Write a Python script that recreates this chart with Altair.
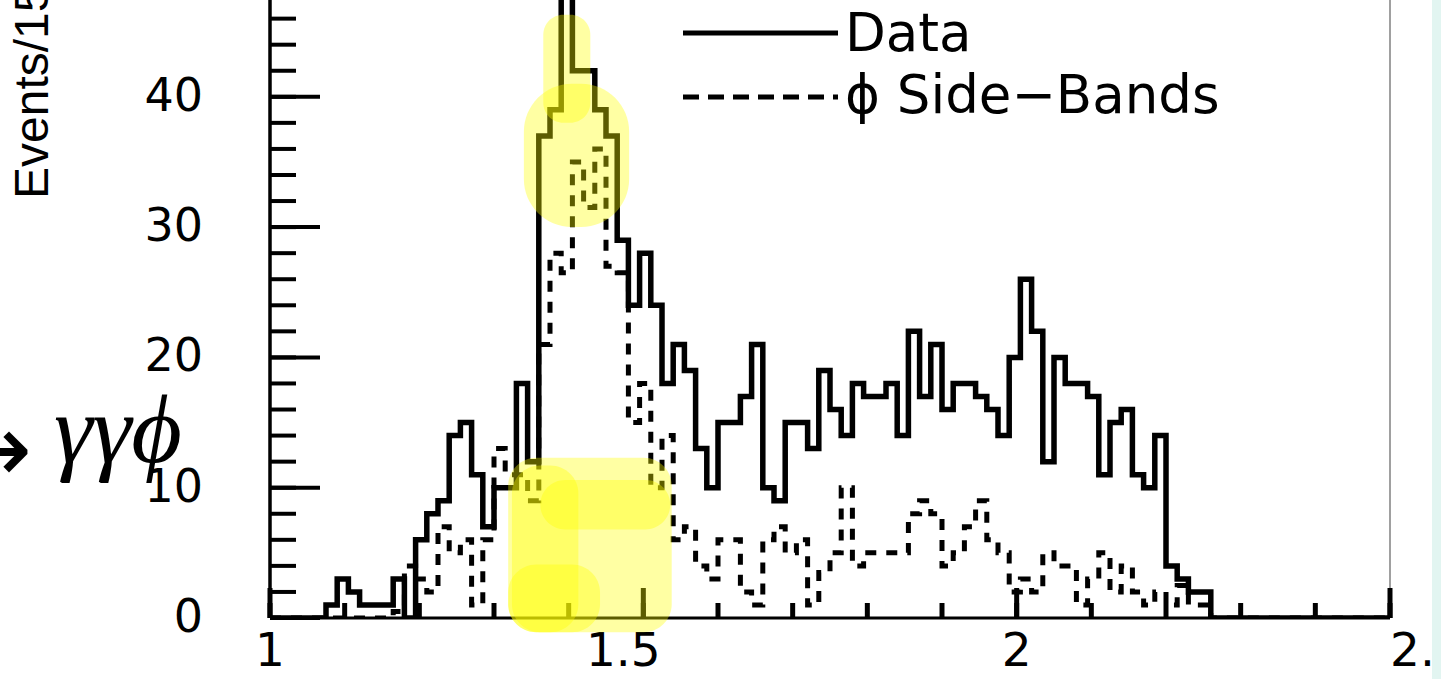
import altair as alt
import pandas as pd

# ---------------- data ----------------
BIN_START = 1.0
BIN_WIDTH = 0.015   # 100 bins from 1.0 to 2.5

data_counts = [
    0, 0, 0, 0, 0, 1, 3, 2, 1, 1,
    1, 3, 0, 6, 8, 9, 14, 15, 11, 7,
    10, 10, 18, 12, 37, 39, 50, 42, 42, 39,
    37, 29, 24, 28, 24, 18, 21, 19, 13, 10,
    15, 15, 17, 21, 10, 9, 15, 15, 13, 19,
    16, 14, 18, 17, 17, 18, 14, 22, 17, 21,
    16, 18, 18, 17, 16, 14, 20, 26, 22, 12,
    20, 18, 18, 17, 11, 15, 16, 11, 10, 14,
    4, 3, 2, 2, 0, 0, 0, 0, 0, 0,
    0, 0, 0, 0, 0, 0, 0, 0, 0, 0,
]

sideband_counts = [
    0, 0, 0, 0, 0, 0, 0, 0, 0, 0,
    0, 0.5, 4, 3, 2, 7, 5, 6, 1, 6,
    13, 11, 11, 9, 21, 28, 26.5, 35, 31.5, 36,
    27, 26.5, 15, 18, 10, 14, 6, 7, 4, 3,
    6, 6, 2, 1, 6, 7, 5, 6, 1, 3.5,
    5, 10, 4, 5, 5, 5, 5, 8, 9, 8,
    4, 5, 7, 9, 6, 5, 2, 3, 2, 5,
    4, 4, 1, 3, 5, 2, 4, 2, 1, 2,
    1, 2.5, 1, 1, 0, 0, 0, 0, 0, 0,
    0, 0, 0, 0, 0, 0, 0, 0, 0, 0,
]

x_label_values = [1, 1.5, 2, 2.5]
x_label_text = ["1", "1.5", "2", "2.5"]
x_major_ticks = [1, 1.5, 2, 2.5]
x_minor_ticks = [1.0, 1.1, 1.2, 1.3, 1.4, 1.5, 1.6, 1.7, 1.8, 1.9, 2.0, 2.1, 2.2, 2.3, 2.4, 2.5]
y_label_values = [0, 10, 20, 30, 40]
y_major_ticks = [0, 10, 20, 30, 40]
y_minor_ticks = [0, 2, 4, 6, 8, 10, 12, 14, 16, 18, 20, 22, 24, 26, 28, 30, 32, 34, 36, 38, 40, 42, 44, 46]

# yellow highlighter strokes (data coordinates)
hl_top_x1, hl_top_x2, hl_top_y1, hl_top_y2 = [1.366], [1.429], [46.3], [38.0]
hl_blob_x1, hl_blob_x2, hl_blob_y1, hl_blob_y2 = [1.340], [1.481], [41.0], [30.0]
hl_low_x1 = [1.319, 1.324, 1.362, 1.319]
hl_low_x2 = [1.538, 1.413, 1.536, 1.442]
hl_low_y1 = [12.3, 11.7, 10.6, 4.1]
hl_low_y2 = [-1.1, -1.1, 6.8, -1.1]

# ---------------- tables ----------------
edges = [round(BIN_START + BIN_WIDTH * k, 4) for k in range(len(data_counts) + 1)]
df_data = pd.DataFrame({"mass": edges, "count": data_counts + [data_counts[-1]]})
df_side = pd.DataFrame({"mass": edges, "count": sideband_counts + [sideband_counts[-1]]})
df_xlab = pd.DataFrame({"v": x_label_values, "t": x_label_text})
one = pd.DataFrame({"a": [0]})

xs = alt.Scale(domain=[1.0, 2.5], nice=False, zero=False)
ys = alt.Scale(domain=[0, 47.43], nice=False, zero=False)

def X(f):
    return alt.X(f, scale=xs, axis=None)

def Y(f):
    return alt.Y(f, scale=ys, axis=None)

# histograms
side_line = alt.Chart(df_side).mark_line(
    interpolate="step-after", clip=True, color="black", strokeWidth=5, strokeDash=[11, 10]
).encode(x=X("mass:Q"), y=Y("count:Q"))
data_line = alt.Chart(df_data).mark_line(
    interpolate="step-after", clip=True, color="black", strokeWidth=5.5
).encode(x=X("mass:Q"), y=Y("count:Q"))

# axis lines
y_axis_line = alt.Chart(one).mark_rule(color="black", strokeWidth=3.5).encode(x=alt.datum(1.0, scale=xs, axis=None))
x_axis_line = alt.Chart(one).mark_rule(color="black", strokeWidth=3).encode(y=alt.datum(0, scale=ys, axis=None))
frame = alt.Chart(one).mark_rule(color="#808080", strokeWidth=1.5).encode(x=alt.datum(2.5, scale=xs, axis=None))

# inward ticks
ymin = alt.Chart(pd.DataFrame({"v": y_minor_ticks})).mark_rule(color="black", strokeWidth=4).encode(
    y=Y("v:Q"), x=alt.value(0), x2=alt.value(26))
ymaj = alt.Chart(pd.DataFrame({"v": y_major_ticks})).mark_rule(color="black", strokeWidth=4).encode(
    y=Y("v:Q"), x=alt.value(0), x2=alt.value(50))
xmin = alt.Chart(pd.DataFrame({"v": x_minor_ticks})).mark_rule(color="black", strokeWidth=5).encode(
    x=X("v:Q"), y=alt.value(618), y2=alt.value(603))
xmaj = alt.Chart(pd.DataFrame({"v": x_major_ticks})).mark_rule(color="black", strokeWidth=5).encode(
    x=X("v:Q"), y=alt.value(618), y2=alt.value(588))

# tick labels
ylab = alt.Chart(pd.DataFrame({"v": y_label_values})).mark_text(
    align="right", baseline="middle", font="DejaVu Sans", fontSize=46, color="black"
).encode(y=Y("v:Q"), x=alt.value(-67), text="v:Q")

lab_style = dict(baseline="top", font="DejaVu Sans", fontSize=47, color="black")
xlab_c = alt.Chart(df_xlab).transform_filter("datum.t == '1' || datum.t == '2'").mark_text(
    align="center", **lab_style).encode(x=X("v:Q"), y=alt.value(629), text="t:N")
xlab_15 = alt.Chart(df_xlab).transform_filter("datum.t == '1.5'").mark_text(
    align="center", dx=-20, **lab_style).encode(x=X("v:Q"), y=alt.value(629), text="t:N")
xlab_25 = alt.Chart(df_xlab).transform_filter("datum.t == '2.5'").mark_text(
    align="left", dx=0, **lab_style).encode(x=X("v:Q"), y=alt.value(629), text="t:N")

# y title (cut by top edge, as in the reference)
ytitle = alt.Chart(one).mark_text(
    text="Events/15 MeV", angle=270, align="left", baseline="alphabetic",
    font="Liberation Sans", fontSize=48, color="black"
).encode(x=alt.value(-222), y=alt.value(199))

# legend
leg_solid = alt.Chart(one).mark_rule(color="black", strokeWidth=5).encode(
    x=alt.value(413), x2=alt.value(568), y=alt.value(33))
leg_dash = alt.Chart(one).mark_rule(color="black", strokeWidth=5, strokeDash=[16, 9]).encode(
    x=alt.value(413), x2=alt.value(568), y=alt.value(97))
leg_t1 = alt.Chart(one).mark_text(
    text="Data", align="left", baseline="alphabetic", font="DejaVu Sans", fontSize=53, color="black"
).encode(x=alt.value(575), y=alt.value(51))
leg_t2 = alt.Chart(one).mark_text(
    text="\u03d5 Side\u2212Bands", align="left", baseline="alphabetic", font="DejaVu Sans", fontSize=53, color="black"
).encode(x=alt.value(575), y=alt.value(113))

# slide text fragment at left
frag = alt.Chart(one).mark_text(
    text="\u03b3\u03b3\u03d5", align="right", baseline="alphabetic",
    font="Liberation Serif", fontStyle="italic", fontSize=98, color="black"
).encode(x=alt.value(-88), y=alt.value(462))
arrow = alt.Chart(one).mark_text(
    text="\u2192", align="right", baseline="alphabetic",
    font="DejaVu Sans", fontSize=96, color="black"
).encode(x=alt.value(-238), y=alt.value(482))

# highlighter
def hl_layer(x1, x2, y1, y2, r):
    df = pd.DataFrame({"x1": x1, "x2": x2, "y1": y1, "y2": y2})
    return alt.Chart(df).mark_rect(color="#ffff00", opacity=0.36, cornerRadius=r).encode(
        x=X("x1:Q"), x2="x2:Q", y=Y("y1:Q"), y2="y2:Q")

hl_top = hl_layer(hl_top_x1, hl_top_x2, hl_top_y1, hl_top_y2, 20)
hl_blob = hl_layer(hl_blob_x1, hl_blob_x2, hl_blob_y1, hl_blob_y2, 48)
hl_low = hl_layer(hl_low_x1, hl_low_x2, hl_low_y1, hl_low_y2, 28)

# slide background strip at right edge
strip = alt.Chart(one).mark_rect(color="#e2f5f1").encode(
    x=alt.value(1162), x2=alt.value(1180), y=alt.value(-10), y2=alt.value(700))

chart = alt.layer(
    side_line, data_line, y_axis_line, x_axis_line, frame, ymin, ymaj, xmin, xmaj,
    ylab, xlab_c, xlab_15, xlab_25, ytitle,
    leg_solid, leg_dash, leg_t1, leg_t2, frag, arrow,
    hl_top, hl_blob, hl_low, strip,
).properties(
    width=1120, height=618,
    padding={"left": 270, "right": 51, "top": 0, "bottom": 61},
    autosize=alt.AutoSizeParams(type="none"),
    background="white",
).configure_view(stroke=None)

chart.save("out.html", embed_options={"renderer": "svg", "actions": False})
